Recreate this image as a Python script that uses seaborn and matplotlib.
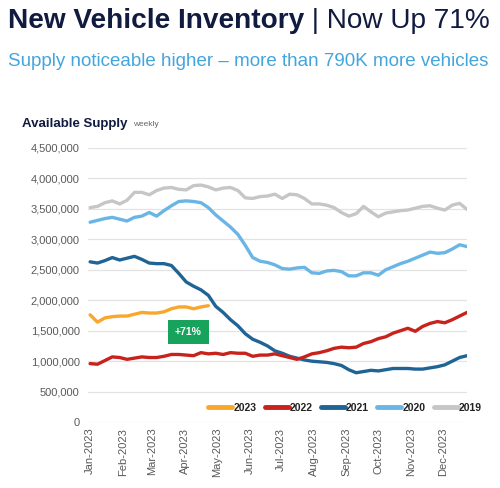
import matplotlib
matplotlib.use("Agg")
import matplotlib.pyplot as plt
import matplotlib.dates as mdates
from matplotlib.ticker import FuncFormatter
from matplotlib.lines import Line2D
import seaborn as sns
import pandas as pd

# weekly available supply, millions of units
weeks = pd.date_range("2023-01-01", periods=52, freq="7D")

supply_2019 = [3.52, 3.54, 3.60, 3.63, 3.58, 3.64, 3.77, 3.77, 3.73, 3.80,
               3.84, 3.85, 3.82, 3.81, 3.88, 3.89, 3.86, 3.81, 3.84, 3.85,
               3.80, 3.68, 3.67, 3.70, 3.71, 3.74, 3.67, 3.74, 3.73, 3.67,
               3.58, 3.58, 3.56, 3.52, 3.44, 3.38, 3.42, 3.54, 3.45, 3.37,
               3.43, 3.45, 3.47, 3.48, 3.51, 3.54, 3.55, 3.51, 3.48, 3.56,
               3.59, 3.49]
supply_2020 = [3.28, 3.31, 3.34, 3.36, 3.33, 3.30, 3.36, 3.38, 3.44, 3.38,
               3.47, 3.55, 3.62, 3.63, 3.62, 3.60, 3.52, 3.40, 3.30, 3.20,
               3.08, 2.90, 2.70, 2.64, 2.62, 2.58, 2.52, 2.51, 2.53, 2.54,
               2.45, 2.44, 2.48, 2.49, 2.47, 2.40, 2.40, 2.45, 2.45, 2.41,
               2.50, 2.55, 2.60, 2.64, 2.69, 2.74, 2.79, 2.77, 2.78, 2.84,
               2.91, 2.88]
supply_2021 = [2.63, 2.61, 2.65, 2.70, 2.66, 2.69, 2.72, 2.67, 2.61, 2.60,
               2.60, 2.57, 2.44, 2.30, 2.23, 2.17, 2.08, 1.90, 1.80, 1.68,
               1.58, 1.45, 1.36, 1.31, 1.25, 1.17, 1.13, 1.08, 1.05, 1.02,
               1.00, 0.99, 0.98, 0.96, 0.93, 0.86, 0.81, 0.83, 0.85, 0.84,
               0.86, 0.88, 0.88, 0.88, 0.87, 0.87, 0.89, 0.91, 0.94, 1.00,
               1.06, 1.09]
supply_2022 = [0.96, 0.95, 1.01, 1.07, 1.06, 1.03, 1.05, 1.07, 1.06, 1.06,
               1.08, 1.11, 1.11, 1.10, 1.09, 1.14, 1.12, 1.13, 1.11, 1.14,
               1.13, 1.13, 1.08, 1.10, 1.10, 1.12, 1.09, 1.06, 1.03, 1.07,
               1.12, 1.14, 1.17, 1.21, 1.23, 1.22, 1.23, 1.29, 1.32, 1.37,
               1.40, 1.46, 1.50, 1.54, 1.49, 1.57, 1.62, 1.65, 1.63, 1.68,
               1.74, 1.80]
supply_2023 = [1.76, 1.64, 1.71, 1.73, 1.74, 1.74, 1.77, 1.80, 1.79, 1.79,
               1.81, 1.86, 1.89, 1.89, 1.86, 1.89, 1.91]

years = ["2023", "2022", "2021", "2020", "2019"]
colors = {"2023": "#F9A72B", "2022": "#C8221C", "2021": "#1F6494",
          "2020": "#69B6E6", "2019": "#C6C6C6"}

series = {"2019": supply_2019, "2020": supply_2020, "2021": supply_2021,
          "2022": supply_2022, "2023": supply_2023}
frames = []
for yr, vals in series.items():
    frames.append(pd.DataFrame({"week": weeks[:len(vals)],
                                "supply": [v * 1e6 for v in vals],
                                "year": yr}))
df = pd.concat(frames, ignore_index=True)

sns.set_theme(style="white")
plt.rcParams["font.family"] = ["Liberation Sans", "DejaVu Sans"]

fig = plt.figure(figsize=(5, 4.88), dpi=100)
ax = fig.add_axes([0.176, 0.135, 0.758, 0.562])

sns.lineplot(data=df, x="week", y="supply", hue="year",
             hue_order=years[::-1], palette=colors, linewidth=2.4,
             ax=ax, legend=False)

ax.set_ylim(0, 4.5e6)
ax.set_yticks([i * 500000 for i in range(10)])
ax.yaxis.set_major_formatter(FuncFormatter(lambda v, p: f"{int(v):,}"))
ax.set_xlim(weeks[0] - pd.Timedelta(days=2), weeks[-1])
ax.xaxis.set_major_locator(mdates.MonthLocator())
ax.xaxis.set_major_formatter(mdates.DateFormatter("%b-%Y"))
ax.tick_params(axis="x", rotation=90, labelsize=8, colors="#595959", length=0, pad=4)
ax.tick_params(axis="y", labelsize=8, colors="#595959", length=0, pad=6)
ax.grid(axis="y", color="#E3E3E3", linewidth=0.9)
ax.set_axisbelow(True)
for s in ax.spines.values():
    s.set_visible(False)
ax.set_xlabel("")
ax.set_ylabel("")

# callout
ax.text(pd.Timestamp("2023-04-04"), 1.48e6, "+71%", color="white",
        fontsize=7.5, fontweight="bold", ha="center", va="center",
        bbox=dict(boxstyle="square,pad=0.65", fc="#17A35C", ec="none"))

# legend
handles = [Line2D([0], [0], color=colors[y], lw=3.5) for y in years]
leg = fig.legend(handles, years, loc="center left", bbox_to_anchor=(0.398, 0.164),
                 ncol=5, frameon=False, handlelength=2.3, handletextpad=0.1,
                 columnspacing=0.8, prop={"size": 7.5, "weight": "bold"})
for t in leg.get_texts():
    t.set_color("#222222")

# titles
t1 = fig.text(0.016, 0.957, "New Vehicle Inventory", fontsize=20.2,
              fontweight="bold", color="#111a3f", va="center")
fig.canvas.draw()
bb = t1.get_window_extent()
x2 = fig.transFigure.inverted().transform((bb.x1, bb.y0))[0]
fig.text(x2, 0.957, " | Now Up 71%", fontsize=20.2,
         color="#111a3f", va="center")
fig.text(0.016, 0.875, "Supply noticeable higher \u2013 more than 790K more vehicles",
         fontsize=13.5, color="#42A5DE", va="center")
fig.text(0.044, 0.745, "Available Supply", fontsize=9.5, fontweight="bold",
         color="#111a3f", va="center")
fig.text(0.266, 0.745, "weekly", fontsize=6, color="#666666", va="center")

fig.savefig("out.png", dpi=100)
